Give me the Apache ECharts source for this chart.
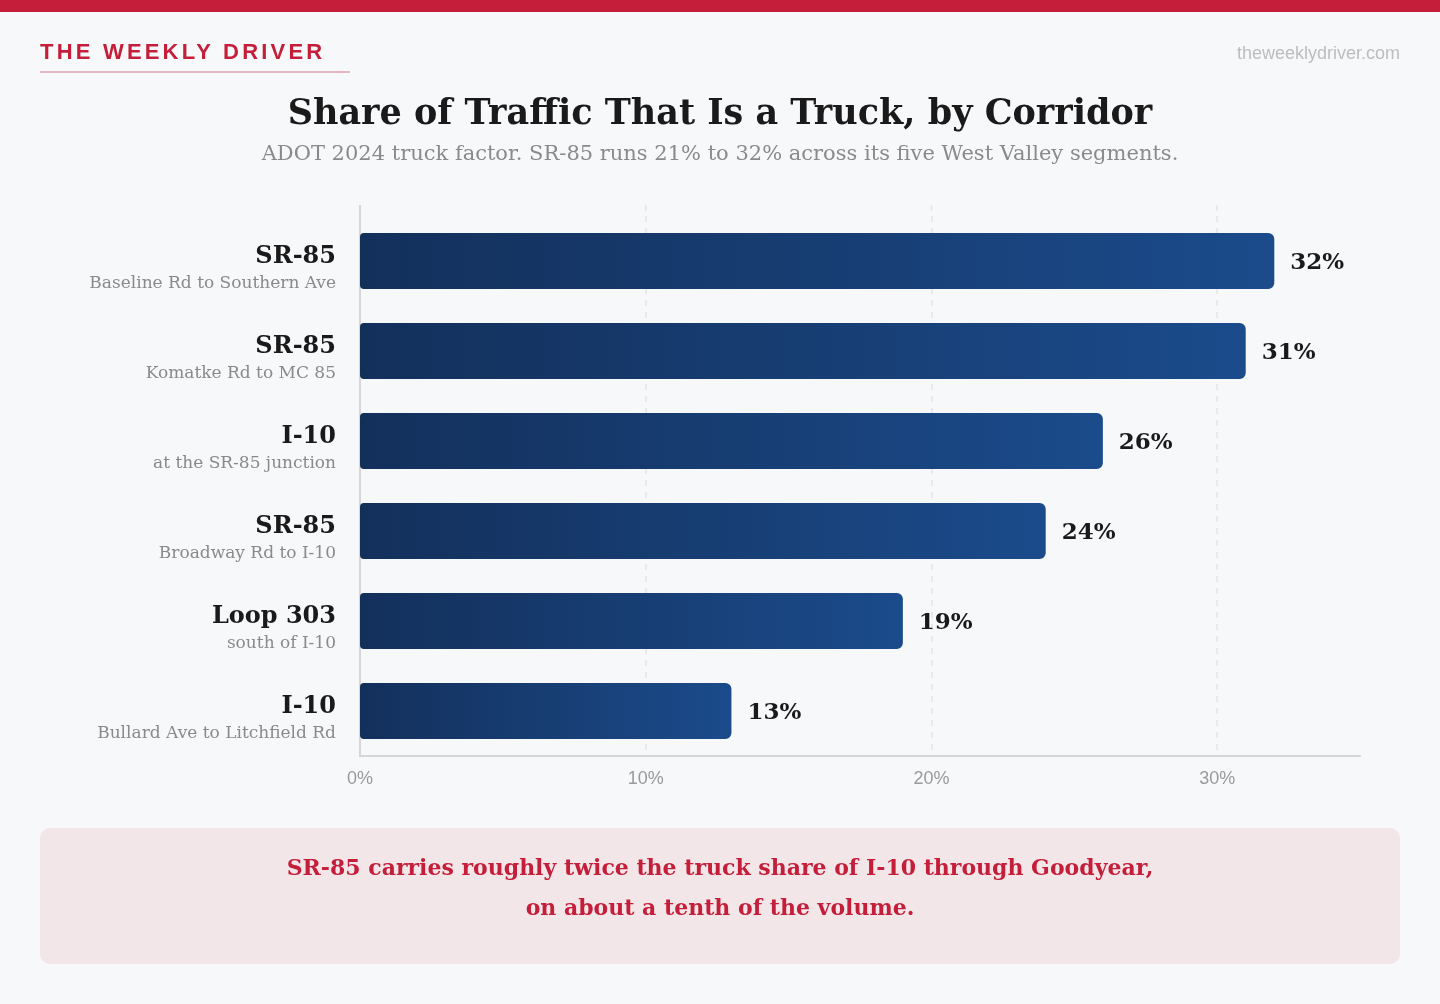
<!DOCTYPE html>
<html><head><meta charset="utf-8">
<style>html,body{margin:0;padding:0;background:#f7f8fa;}#wrap{position:relative;width:1440px;height:1004px;}#c{width:1440px;height:1004px;}
#brand{position:absolute;left:40px;top:38px;font-family:"Liberation Sans",Helvetica,Arial,sans-serif;font-weight:bold;font-size:22px;letter-spacing:3.2px;color:#c41e3a;line-height:28px;white-space:nowrap;}</style>
<script src="https://cdn.jsdelivr.net/npm/echarts@6/dist/echarts.min.js"></script>
</head><body><div id="wrap"><div id="c"></div><div id="brand">THE WEEKLY DRIVER</div></div>
<script>
const corridors = ['SR-85','SR-85','I-10','SR-85','Loop 303','I-10'];
const segments = ['Baseline Rd to Southern Ave','Komatke Rd to MC 85','at the SR-85 junction','Broadway Rd to I-10','south of I-10','Bullard Ave to Litchfield Rd'];
const truckShare = [32,31,26,24,19,13];
const xTicks = [0,10,20,30];

const SERIF = '"DejaVu Serif", Georgia, serif';
const SANS = '"Liberation Sans", Helvetica, Arial, sans-serif';
const chart = echarts.init(document.getElementById('c'), null, {renderer:'canvas'});
const cats = corridors.map((c,i)=>i).reverse();
chart.setOption({
  backgroundColor:'#f7f8fa',
  animation:false,
  title:[
    {text:'Share of Traffic That Is a Truck, by Corridor', left:'center', top:92,
     textStyle:{fontFamily:SERIF, fontWeight:'bold', fontSize:35, color:'#1a1a1a'}},
    {text:'ADOT 2024 truck factor. SR-85 runs 21% to 32% across its five West Valley segments.', left:'center', top:139,
     textStyle:{fontFamily:SERIF, fontWeight:'normal', fontSize:21, color:'#8a8a8a'}}
  ],
  grid:{left:360, top:216, width:1000, height:540, containLabel:false},
  xAxis:{type:'value', min:0, max:35, interval:10,
    axisLine:{show:true, lineStyle:{color:'#d6d6d8', width:2}},
    axisTick:{show:false},
    splitLine:{show:true, showMaxLine:false, lineStyle:{color:'#e4e4e6', type:[6,6], width:1.5}},
    axisLabel:{margin:14, fontFamily:SANS, fontSize:18, color:'#9a9a9a', showMaxLabel:false,
      formatter:v=> xTicks.indexOf(v)>=0 ? v+'%' : ''}
  },
  yAxis:{type:'category', data:cats,
    axisLine:{show:true, lineStyle:{color:'#d6d6d8', width:2}},
    axisTick:{show:false},
    axisLabel:{margin:24, align:'right', padding:[18,0,0,0],
      formatter:(v)=>'{n|'+corridors[v]+'}\n{s|'+segments[v]+'}',
      rich:{
        n:{fontFamily:SERIF, fontWeight:'bold', fontSize:24, color:'#1a1a1a', lineHeight:28, align:'right'},
        s:{fontFamily:SERIF, fontSize:17, color:'#8a8a8a', lineHeight:26, align:'right'}
      }}
  },
  series:[{
    type:'bar', barWidth:56,
    data:truckShare.slice().reverse(),
    itemStyle:{borderRadius:[4,6,6,4],
      color:new echarts.graphic.LinearGradient(0,0,1,0,[{offset:0,color:'#13305b'},{offset:1,color:'#1b4b8b'}])},
    label:{show:true, position:'right', distance:16, offset:[0,2], formatter:p=>p.value+'%',
      fontFamily:SERIF, fontWeight:'bold', fontSize:23, color:'#1a1a1a'}
  }]
});
// extend axis and grid lines slightly above the plot, as in the reference
const topY = chart.convertToPixel({gridIndex:0},[0,0]) ? 216 : 216;
const extra = [];
xTicks.forEach(t=>{
  const x = chart.convertToPixel({xAxisIndex:0}, t);
  extra.push({type:'line', shape:{x1:x, y1:205, x2:x, y2:216},
    style: t===0 ? {stroke:'#d6d6d8', lineWidth:2} : {stroke:'#e4e4e6', lineWidth:1.5, lineDash:[6,6]}});
});
chart.setOption({graphic:[
    {type:'rect', left:0, top:0, shape:{width:1440, height:12}, style:{fill:'#c41e3a'}},
    {type:'rect', left:40, top:71, shape:{width:310, height:2}, style:{fill:'#e8b6c0'}},
    {type:'text', right:40, top:45, style:{text:'theweeklydriver.com', fontFamily:SANS, fontSize:18, fill:'#bdbdbd'}},
    ...extra,
    {type:'rect', left:40, top:828, shape:{width:1360, height:136, r:10}, style:{fill:'#f3e6e8'}},
    {type:'text', x:720, y:849, style:{text:'SR-85 carries roughly twice the truck share of I-10 through Goodyear,\non about a tenth of the volume.', align:'center', lineHeight:40, fontFamily:SERIF, fontWeight:'bold', fontSize:22, fill:'#c41e3a'}}
]});
</script></body></html>
